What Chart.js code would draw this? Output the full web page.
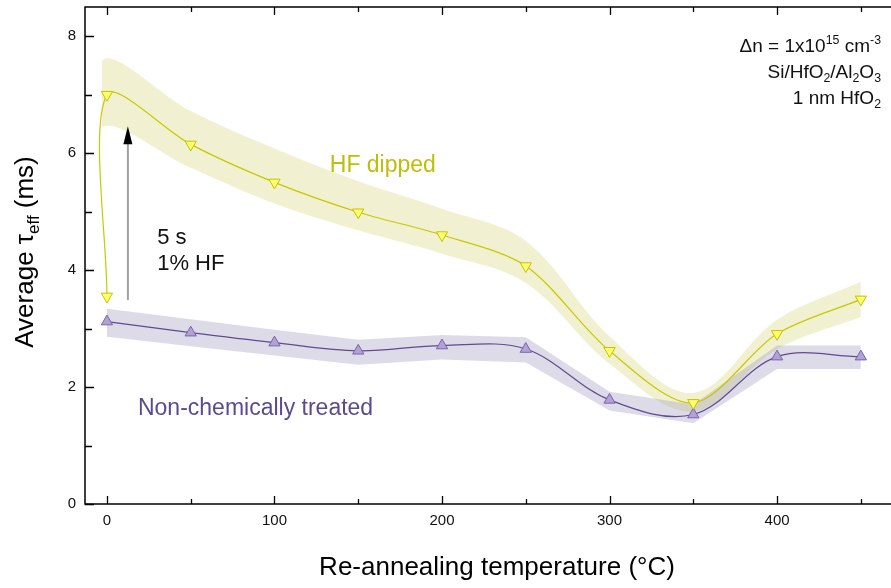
<!DOCTYPE html>
<html>
<head>
<meta charset="utf-8">
<script src="https://cdn.jsdelivr.net/npm/chart.js@4/dist/chart.umd.min.js"></script>
<style>
  html, body { margin: 0; padding: 0; background: #fff; }
  canvas { display: block; }
</style>
</head>
<body>
<canvas id="tauChart" width="891" height="588"></canvas>
<script>
// HF dipped samples (two readings at 0 °C: before and after the dip)
const hfTemps = [0, 0, 50, 100, 150, 200, 250, 300, 350, 400, 450];
const hfDipped = [3.55, 7.0, 6.15, 5.5, 4.99, 4.6, 4.07, 2.62, 1.73, 2.91, 3.5];
// error band of the HF dipped curve
const hfBandTemps = [-3, -3, 50, 100, 150, 200, 250, 300, 350, 400, 450];
const hfUpper = [5.0, 7.58, 6.72, 6.08, 5.52, 5.05, 4.5, 2.87, 1.9, 3.15, 3.8];
const hfLower = [5.0, 6.45, 5.75, 5.14, 4.68, 4.28, 3.78, 2.4, 1.58, 2.65, 3.2];

// non-chemically treated samples
const ncTemps = [0, 50, 100, 150, 200, 250, 300, 350, 400, 450];
const nonChem = [3.12, 2.93, 2.76, 2.62, 2.71, 2.65, 1.78, 1.53, 2.52, 2.52];
const ncUpper = [3.34, 3.16, 2.98, 2.81, 2.89, 2.85, 1.92, 1.7, 2.71, 2.71];
const ncLower = [2.86, 2.7, 2.54, 2.38, 2.47, 2.42, 1.6, 1.38, 2.31, 2.31];

// axis ticks
const xTicks = [0, 100, 200, 300, 400];
const xMinor = [50, 150, 250, 350, 450];
const yTicks = [0, 2, 4, 6, 8];
const yMinor = [1, 3, 5, 7];

const FONT = '"Liberation Sans", Arial, sans-serif';
const pts = (xs, ys) => xs.map((x, i) => ({ x: x, y: ys[i] }));

// draws text with super/subscript parts
function richText(ctx, parts, x, y, size, align) {
    const widths = parts.map(p => {
        ctx.font = (p[1] ? size * 0.65 : size) + 'px ' + FONT;
        return ctx.measureText(p[0]).width;
    });
    const total = widths.reduce((a, b) => a + b, 0);
    let cx = align === 'right' ? x - total : align === 'center' ? x - total / 2 : x;
    ctx.textAlign = 'left';
    ctx.textBaseline = 'alphabetic';
    parts.forEach((p, i) => {
        ctx.font = (p[1] ? size * 0.65 : size) + 'px ' + FONT;
        let dy = 0;
        if (p[1] === 'sup') dy = -size * 0.42;
        if (p[1] === 'sub') dy = size * 0.22;
        ctx.fillText(p[0], cx, y + dy);
        cx += widths[i];
    });
}

const framePlugin = {
    id: 'frame',
    afterDraw(chart) {
        const ctx = chart.ctx;
        const a = chart.chartArea;
        const xs = chart.scales.x, ys = chart.scales.y;
        ctx.save();
        ctx.strokeStyle = '#000';
        ctx.lineWidth = 1.5;
        ctx.beginPath();
        ctx.moveTo(a.right, a.top); ctx.lineTo(a.left, a.top);
        ctx.lineTo(a.left, a.bottom); ctx.lineTo(a.right, a.bottom);
        ctx.stroke();

        ctx.lineWidth = 1.3;
        ctx.beginPath();
        xTicks.concat(xMinor).forEach(v => {
            const px = Math.round(xs.getPixelForValue(v)) + 0.5;
            const len = xTicks.includes(v) ? 8 : 5;
            ctx.moveTo(px, a.bottom); ctx.lineTo(px, a.bottom - len);
            ctx.moveTo(px, a.top); ctx.lineTo(px, a.top + len);
        });
        yTicks.concat(yMinor).forEach(v => {
            const py = Math.round(ys.getPixelForValue(v)) + 0.5;
            const len = yTicks.includes(v) ? 9 : 7;
            ctx.moveTo(a.left, py); ctx.lineTo(a.left + len, py);
        });
        ctx.stroke();

        // axis titles
        ctx.fillStyle = '#000';
        richText(ctx, [['Re-annealing temperature (°C)', '']], 497, 575, 26, 'center');
        ctx.translate(33, 252);
        ctx.rotate(-Math.PI / 2);
        richText(ctx, [['Average τ', ''], ['eff', 'sub'], [' (ms)', '']], 0, 0, 26, 'center');
        ctx.restore();
    }
};

const notesPlugin = {
    id: 'notes',
    afterDatasetsDraw(chart) {
        const ctx = chart.ctx;
        const xs = chart.scales.x, ys = chart.scales.y;
        const X = v => xs.getPixelForValue(v), Y = v => ys.getPixelForValue(v);
        ctx.save();

        // dip arrow
        const ax = X(12.2) + 0.5, tip = Y(6.46), base = Y(3.49);
        ctx.strokeStyle = '#a0a0a0';
        ctx.lineWidth = 2;
        ctx.beginPath();
        ctx.moveTo(ax, base); ctx.lineTo(ax, tip + 16);
        ctx.stroke();
        ctx.fillStyle = '#000';
        ctx.beginPath();
        ctx.moveTo(ax, tip); ctx.lineTo(ax - 4.5, tip + 18); ctx.lineTo(ax + 4.5, tip + 18);
        ctx.closePath();
        ctx.fill();

        ctx.fillStyle = '#111';
        richText(ctx, [['5 s', '']], X(30), Y(4.45), 22, 'left');
        richText(ctx, [['1% HF', '']], X(30), Y(4.0), 22, 'left');

        ctx.fillStyle = 'rgb(190,190,10)';
        richText(ctx, [['HF dipped', '']], X(133), Y(5.67), 23, 'left');
        ctx.fillStyle = 'rgb(90,75,140)';
        richText(ctx, [['Non-chemically treated', '']], X(18.5), Y(1.52), 23, 'left');

        ctx.fillStyle = '#111';
        richText(ctx, [['Δn = 1x10', ''], ['15', 'sup'], [' cm', ''], ['-3', 'sup']], 881, 52, 19, 'right');
        richText(ctx, [['Si/HfO', ''], ['2', 'sub'], ['/Al', ''], ['2', 'sub'], ['O', ''], ['3', 'sub']], 881, 78, 19, 'right');
        richText(ctx, [['1 nm HfO', ''], ['2', 'sub']], 881, 104, 19, 'right');
        ctx.restore();
    }
};

const ctx = document.getElementById('tauChart').getContext('2d');
new Chart(ctx, {
    type: 'line',
    data: {
        datasets: [
            {
                label: 'HF dipped',
                data: pts(hfTemps, hfDipped),
                borderColor: 'rgb(200,200,0)',
                borderWidth: 1.2,
                tension: 0.3,
                pointStyle: 'triangle',
                pointRotation: 180,
                pointRadius: 6.5,
                pointBackgroundColor: 'rgb(255,255,110)',
                pointBorderColor: 'rgb(195,195,0)',
                pointBorderWidth: 1,
                fill: false,
                order: 0
            },
            {
                label: 'Non-chemically treated',
                data: pts(ncTemps, nonChem),
                borderColor: 'rgb(95,75,145)',
                borderWidth: 1.2,
                tension: 0.35,
                pointStyle: 'triangle',
                pointRadius: 6.5,
                pointBackgroundColor: 'rgb(178,162,212)',
                pointBorderColor: 'rgb(120,100,170)',
                pointBorderWidth: 1,
                fill: false,
                order: 0
            },
            {
                label: 'HF upper',
                data: pts(hfBandTemps, hfUpper),
                borderWidth: 0,
                pointRadius: 0,
                tension: 0.35,
                backgroundColor: 'rgba(220,220,140,0.4)',
                fill: '+1',
                order: 2
            },
            {
                label: 'HF lower',
                data: pts(hfBandTemps, hfLower),
                borderWidth: 0,
                pointRadius: 0,
                tension: 0.35,
                fill: false,
                order: 2
            },
            {
                label: 'NC upper',
                data: pts(ncTemps, ncUpper),
                borderWidth: 0,
                pointRadius: 0,
                tension: 0,
                backgroundColor: 'rgba(145,135,180,0.3)',
                fill: '+1',
                order: 1
            },
            {
                label: 'NC lower',
                data: pts(ncTemps, ncLower),
                borderWidth: 0,
                pointRadius: 0,
                tension: 0,
                fill: false,
                order: 1
            }
        ]
    },
    options: {
        responsive: false,
        animation: false,
        devicePixelRatio: 1,
        layout: { autoPadding: false, padding: { top: 7, left: 0, right: 0, bottom: 0 } },
        plugins: {
            legend: { display: false },
            tooltip: { enabled: false }
        },
        scales: {
            x: {
                type: 'linear',
                min: -13.1,
                max: 468,
                border: { display: false },
                grid: { display: false, drawTicks: false },
                afterBuildTicks: s => { s.ticks = xTicks.map(v => ({ value: v })); },
                afterFit: s => { s.height = 84; s.paddingLeft = 0; s.paddingRight = 0; },
                ticks: { padding: 8, color: '#111', font: { family: FONT, size: 15 } }
            },
            y: {
                type: 'linear',
                min: 0,
                max: 8.5,
                border: { display: false },
                grid: { display: false, drawTicks: false },
                afterBuildTicks: s => { s.ticks = yTicks.map(v => ({ value: v })); },
                afterFit: s => { s.width = 85; s.paddingTop = 0; s.paddingBottom = 0; },
                ticks: { padding: 9, color: '#111', font: { family: FONT, size: 15 } }
            }
        }
    },
    plugins: [framePlugin, notesPlugin]
});
</script>
</body>
</html>
